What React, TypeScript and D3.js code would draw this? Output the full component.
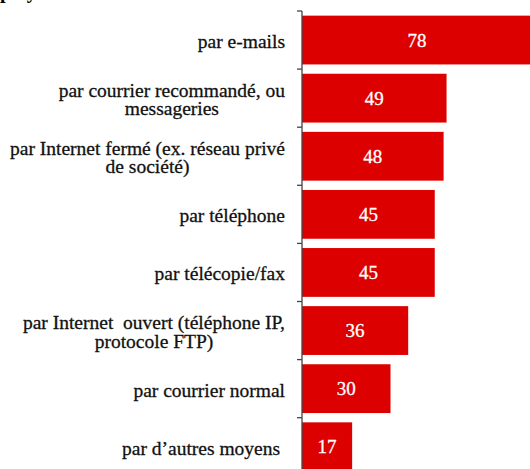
import React, { useEffect, useRef } from 'react'
import * as d3 from 'd3'

const titleText = 'Moyens employés'
const categories = [
  'par e-mails',
  'par courrier recommandé, ou\nmessageries',
  'par Internet fermé (ex. réseau privé\nde société)',
  'par téléphone',
  'par télécopie/fax',
  'par Internet  ouvert (téléphone IP,\nprotocole FTP)',
  'par courrier normal',
  'par d’autres moyens ',
]
const values = [78, 49, 48, 45, 45, 36, 30, 17]

export default function App() {
  const svgRef = useRef<SVGSVGElement>(null)

  useEffect(() => {
    const width = 530, height = 469
    const axisX = 302, labelRight = 285
    const font = '"Liberation Serif", "Times New Roman", serif'
    const svg = d3.select(svgRef.current)
      .attr('viewBox', `0 0 ${width} ${height}`)
      .attr('width', width)
      .attr('height', height)
    svg.selectAll('*').remove()

    const y = d3.scaleBand<number>()
      .domain(d3.range(categories.length))
      .range([11, 11 + 58.1 * categories.length])
      .paddingInner(0.16)
      .paddingOuter(0.08)

    const x = d3.scaleLinear()
      .domain([0, 80])
      .range([axisX, axisX + 80 * 2.95])

    // title, mostly cut off by the top edge
    const title = svg.append('text')
      .attr('y', -2)
      .attr('font-family', font)
      .attr('font-size', 20)
      .attr('font-weight', 'bold')
      .attr('fill', '#000')
      .text(titleText)
    const tNode = title.node() as SVGTextElement
    const pIdx = titleText.indexOf('p')
    title.attr('x', -tNode.getSubStringLength(0, pIdx))

    // bars
    svg.append('g')
      .selectAll('rect')
      .data(values)
      .join('rect')
        .attr('x', axisX)
        .attr('y', (d, i) => y(i)!)
        .attr('width', d => x(d) - axisX)
        .attr('height', y.bandwidth())
        .attr('fill', '#dc0000')

    // value labels
    svg.append('g')
      .selectAll('text')
      .data(values)
      .join('text')
        .attr('x', d => (axisX + x(d)) / 2)
        .attr('y', (d, i) => y(i)! + y.bandwidth() / 2 + 6.5)
        .attr('text-anchor', 'middle')
        .attr('font-family', font)
        .attr('font-size', 19)
        .attr('fill', '#fff')
        .attr('stroke', '#fff')
        .attr('stroke-width', 0.3)
        .text(d => d)

    // axis line + ticks between categories
    const step = y.step()
    const start = y.range()[0]
    svg.append('line')
      .attr('x1', axisX).attr('x2', axisX)
      .attr('y1', start).attr('y2', start + step * categories.length)
      .attr('stroke', '#444').attr('stroke-width', 1.3)
    svg.append('g')
      .selectAll('line')
      .data(d3.range(categories.length + 1))
      .join('line')
        .attr('x1', axisX - 5).attr('x2', axisX)
        .attr('y1', i => start + i * step).attr('y2', i => start + i * step)
        .attr('stroke', '#444').attr('stroke-width', 1.3)

    // category labels: block right-aligned, lines centred in the block
    const lineH = 18.3
    categories.forEach((c, i) => {
      const lines = c.split('\n')
      const cy = y(i)! + y.bandwidth() / 2 + 8
      const g = svg.append('text')
        .attr('font-family', font)
        .attr('font-size', 19.5)
        .attr('fill', '#111')
        .attr('stroke', '#111')
        .attr('stroke-width', 0.3)
        .attr('text-anchor', 'middle')
        .style('white-space', 'pre')
      const spans = lines.map((l, k) => g.append('tspan')
        .attr('y', cy + (k - (lines.length - 1) / 2) * lineH)
        .text(l))
      const maxW = d3.max(spans, s => (s.node() as SVGTSpanElement).getComputedTextLength()) || 0
      spans.forEach(s => s.attr('x', labelRight - maxW / 2))
    })
  }, [])

  return (
    <svg ref={svgRef} style={{ position: 'absolute', left: 0, top: 0, background: '#fff' }}></svg>
  )
}
